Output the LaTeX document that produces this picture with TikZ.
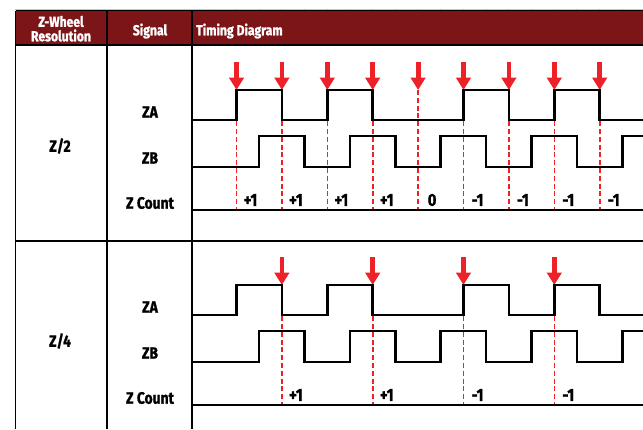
\documentclass[tikz,border=0pt]{standalone}
\usepackage{fontspec}
\setmainfont{Fira Sans}[FakeStretch=0.84,BoldFeatures={FakeBold=1.2}]
\usetikzlibrary{arrows.meta}
\definecolor{headred}{HTML}{7C1517}
\definecolor{arrowred}{HTML}{EC2228}

\begin{document}
\begin{tikzpicture}[x=1pt,y=-1pt,
  every node/.style={font=\bfseries\fontsize{16.5}{16.5}\selectfont,inner sep=0pt},
  headtext/.style={text=white,font=\bfseries\fontsize{14.5}{14.5}\selectfont},
  countlbl/.style={font=\bfseries\fontsize{17.5}{17.5}\selectfont},
  gridline/.style={line width=1.8pt},
  wave/.style={line width=2.6pt},
  cutline/.style={arrowred,line width=1.6pt,dash pattern=on 5pt off 2.8pt},
  marker/.style={arrowred,line width=4.8pt,-{Triangle[width=14.5pt,length=12.5pt]}}]
\useasboundingbox (0,0) rectangle (643,429);

\fill[headred] (15.5,10.5) rectangle (643,45);
\draw[gray!45,line width=0.7pt] (15,9.3) -- (643,9.3);
\foreach \t in {0,...,18}
  \draw[gray!60,line width=0.7pt] ({213.5+22.7*\t},9.3) -- ++(0,2);
\draw[line width=1pt] (15.5,10.5) -- (643,10.5);
\draw[gridline] (15.5,45) -- (643,45);
\draw[gridline] (15.5,241) -- (643,241);
\foreach \x in {15.5,107,192}
  \draw[gridline] (\x,10.5) -- (\x,429);

\node[headtext] (hwhl) at (61,21.5) {Z-Wheel};
\node[headtext] (hres) at (61,35.5) {Resolution};
\node[headtext] (hsig) at (150,31) {Signal};
\node[headtext,anchor=west] (htim) at (196,31) {Timing Diagram};

\foreach \n/\k/\v in {2/0/+1,2/1/+1,2/2/+1,2/3/+1,2/4/0,2/5/-1,2/6/-1,2/7/-1,2/8/-1,
                      4/1/+1,4/3/+1,4/5/-1,4/7/-1}{
  \pgfmathsetmacro\yo{(\n-2)*97.5}
  \coordinate (tip\n\k) at ({236.5+45.4*\k},{90+\yo});
  \coordinate (foot\n\k) at ({236.5+45.4*\k},{210+\yo});
  \draw[cutline] (tip\n\k) -- (foot\n\k);
  \draw[marker] ([yshift=28pt]tip\n\k) -- (tip\n\k);
  \node[countlbl] (cnt\n\k) at ([xshift=14pt,yshift=10pt]foot\n\k) {\v};
}

\foreach \yo/\n in {0/2,195/4}{
  \node (res\n) at (60,{146+\yo}) {Z/\n};
  \node (za\n) at (150,{112+\yo}) {ZA};
  \node (zb\n) at (150,{158+\yo}) {ZB};
  \node (zc\n) at (150,{203+\yo}) {Z Count};
  \draw[wave] (192,{120+\yo}) -| (236.5,{90+\yo}) -| (281.9,{120+\yo}) -| (327.3,{90+\yo})
    -| (372.7,{120+\yo}) -| (463.5,{90+\yo}) -| (508.9,{120+\yo}) -| (554.3,{90+\yo})
    -| (599.7,{120+\yo}) -- (643,{120+\yo});
  \draw[wave] (192,{167+\yo}) -| (259,{136+\yo}) -| (304.4,{167+\yo}) -| (349.8,{136+\yo})
    -| (395.2,{167+\yo}) -| (440.6,{136+\yo}) -| (486,{167+\yo}) -| (531.4,{136+\yo})
    -| (576.8,{167+\yo}) -| (622.2,{136+\yo}) -- (643,{136+\yo});
  \draw[gridline] (192,{210+\yo}) -- (643,{210+\yo});
}
\end{tikzpicture}
\end{document}
